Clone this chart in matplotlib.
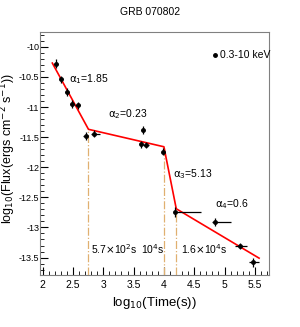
import numpy as np
import matplotlib.pyplot as plt
from matplotlib.ticker import MultipleLocator

plt.rcParams['font.family'] = ['Liberation Sans Narrow', 'Liberation Sans', 'DejaVu Sans']
plt.rcParams['mathtext.fontset'] = 'custom'
plt.rcParams['mathtext.rm'] = 'Liberation Sans Narrow'
plt.rcParams['mathtext.it'] = 'Liberation Sans Narrow'

# data (log10 time, log10 flux)
logt = [2.22, 2.31, 2.40, 2.48, 2.58, 2.71, 2.85, 3.65, 3.63, 3.70, 3.99, 4.19, 4.85, 5.26, 5.47]
logf = [-10.28, -10.54, -10.75, -10.95, -10.97, -11.48, -11.44, -11.38, -11.62, -11.63, -11.74,
        -12.74, -12.91, -13.31, -13.58]
xlo = [0.03, 0.03, 0.03, 0.03, 0.04, 0.04, 0.06, 0.02, 0.03, 0.04, 0.02, 0.02, 0.05, 0.09, 0.07]
xhi = [0.03, 0.03, 0.03, 0.03, 0.04, 0.04, 0.10, 0.02, 0.03, 0.06, 0.02, 0.42, 0.26, 0.11, 0.10]
yerr = [0.07, 0.06, 0.06, 0.06, 0.06, 0.06, 0.06, 0.06, 0.06, 0.05, 0.06, 0.08, 0.06, 0.05, 0.07]

# broken power-law fit
fit_x = [2.16, 2.756, 4.0, 4.204, 5.57]
fit_y = [-10.27, -11.37, -11.66, -12.69, -13.51]
alphas = ['1.85', '0.23', '5.13', '0.6']
breaks = [2.756, 4.0, 4.204]
break_lbl = [r'5.7$\times$10$^2$s', r'10$^4$s', r'1.6$\times$10$^4$s']

fig = plt.figure(figsize=(3.0, 3.27), dpi=100)
ax = fig.add_axes([0.133, 0.159, 0.763, 0.742])

ymin, ymax = -13.79, -9.76
for b in breaks:
    top = np.interp(b, fit_x, fit_y)
    ax.plot([b, b], [ymin, top], color='#e0b070', lw=0.9, ls='-.')

ax.plot(fit_x, fit_y, color='red', lw=1.2)
ax.errorbar(logt, logf, xerr=[xlo, xhi], yerr=yerr, fmt='o', color='black',
            ms=2.5, elinewidth=0.9, capsize=0)

ax.text(2.44, -10.58, r'$\alpha_1$=' + alphas[0], fontsize=7.5)
ax.text(3.07, -11.17, r'$\alpha_2$=' + alphas[1], fontsize=7.5)
ax.text(4.15, -12.17, r'$\alpha_3$=' + alphas[2], fontsize=7.5)
ax.text(4.85, -12.66, r'$\alpha_4$=' + alphas[3], fontsize=7.5)
for xpos, lbl in zip([2.79, 3.62, 4.28], break_lbl):
    ax.text(xpos, -13.44, lbl, fontsize=7.5)

ax.plot([4.85], [-10.13], 'o', color='black', ms=2.5)
ax.text(4.92, -10.13, '0.3-10 keV', fontsize=7.5, va='center')

ax.set_xlim(1.955, 5.73)
ax.set_ylim(ymin, ymax)
ax.xaxis.set_minor_locator(MultipleLocator(0.1))
ax.yaxis.set_minor_locator(MultipleLocator(0.1))
ax.set_xticks(np.arange(2, 5.6, 0.5))
ax.set_xticklabels(['2', '2.5', '3', '3.5', '4', '4.5', '5', '5.5'])
ax.set_yticks(np.arange(-13.5, -9.9, 0.5))
ax.set_yticklabels(['-13.5', '-13', '-12.5', '-12', '-11.5', '-11', '-10.5', '-10'])
ax.tick_params(which='both', direction='in', labelsize=7.5, top=False, right=False)
ax.tick_params(axis='y', pad=0.5, labelsize=6.5)
ax.tick_params(which='major', length=6)
ax.tick_params(which='minor', length=3)
for s in ax.spines.values():
    s.set_color('#808080')

ax.set_xlabel(r'log$_{10}$(Time(s))', fontsize=9.5)
ax.set_ylabel(r'log$_{10}$(Flux(ergs cm$^{-2}$ s$^{-1}$))', fontsize=9,
              family=['Liberation Sans', 'DejaVu Sans'])
ax.yaxis.set_label_coords(-0.097, 0.52)
fig.text(0.5, 0.955, 'GRB 070802', ha='center', fontsize=7.5)

fig.savefig('out.png', dpi=100)
